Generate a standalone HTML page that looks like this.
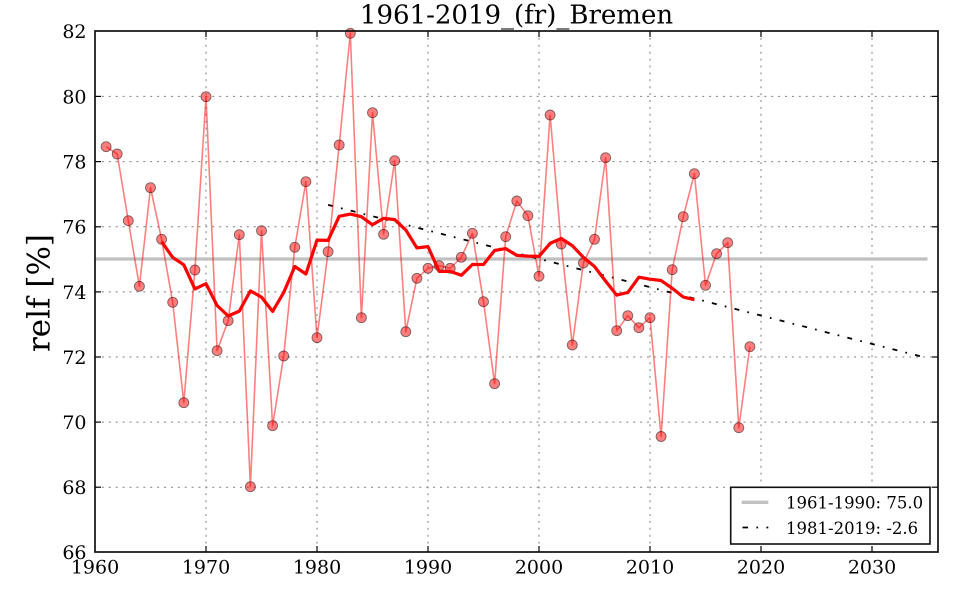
<!DOCTYPE html>
<html>
<head>
<meta charset="utf-8">
<style>
  html, body { margin: 0; padding: 0; background: #ffffff; }
  svg { display: block; }
  text { font-family: "DejaVu Serif", "Liberation Serif", serif; fill: #000; }
</style>
</head>
<body>
<svg width="960" height="600" viewBox="0 0 960 600" xmlns="http://www.w3.org/2000/svg">
  <rect x="0" y="0" width="960" height="600" fill="#ffffff"/>

  <!-- grid -->
  <g stroke="#808080" stroke-width="1" stroke-dasharray="2 4.9" fill="none">
    <line x1="206" y1="31" x2="206" y2="552"/>
    <line x1="317" y1="31" x2="317" y2="552"/>
    <line x1="428" y1="31" x2="428" y2="552"/>
    <line x1="539" y1="31" x2="539" y2="552"/>
    <line x1="650" y1="31" x2="650" y2="552"/>
    <line x1="761" y1="31" x2="761" y2="552"/>
    <line x1="872" y1="31" x2="872" y2="552"/>
    <line x1="95" y1="96.4" x2="938" y2="96.4"/>
    <line x1="95" y1="161.6" x2="938" y2="161.6"/>
    <line x1="95" y1="226.8" x2="938" y2="226.8"/>
    <line x1="95" y1="291.9" x2="938" y2="291.9"/>
    <line x1="95" y1="357.0" x2="938" y2="357.0"/>
    <line x1="95" y1="422.1" x2="938" y2="422.1"/>
    <line x1="95" y1="487.2" x2="938" y2="487.2"/>
  </g>

  <!-- mean 1961-1990 -->
  <line x1="95" y1="259" x2="927.5" y2="259" stroke="#c0c0c0" stroke-width="3.3"/>

  <!-- trend 1981-2019 -->
  <line x1="328.1" y1="204.9" x2="927.5" y2="358.1" stroke="#000" stroke-width="1.8" stroke-dasharray="5 8.3 1.7 8.3"/>

  <!-- data line -->
  <polyline fill="none" stroke="#ff0000" stroke-opacity="0.5" stroke-width="1.6" stroke-linejoin="round"
    points="106.1,146.7 117.2,154 128.3,220.7 139.4,286.3 150.5,187.7 161.6,239.3 172.7,302.3 183.8,402.7 194.9,270 206.0,96.7 217.1,350.7 228.2,320.7 239.3,234.7 250.4,486.7 261.5,230.7 272.6,425.7 283.7,356 294.8,247.3 305.9,181.7 317.0,337.7 328.1,251.7 339.2,145 350.3,33.3 361.4,317.7 372.5,112.7 383.6,234.3 394.7,160.7 405.8,331.7 416.9,278.3 428.0,268.3 439.1,265.7 450.2,268.3 461.3,257.3 472.4,233.3 483.5,301.7 494.6,383.7 505.7,236.7 516.8,201 527.9,215.7 539.0,276.3 550.1,115 561.2,244 572.3,345 583.4,263 594.5,239.3 605.6,157.7 616.7,330.7 627.8,315.7 638.9,327.7 650.0,317.7 661.1,436.5 672.2,269.7 683.3,216.7 694.4,173.7 705.5,285.3 716.6,253.7 727.7,242.7 738.8,427.7 749.9,346.7"/>

  <!-- markers -->
  <g fill="#ff0000" fill-opacity="0.5" stroke="#000" stroke-opacity="0.5" stroke-width="0.9">
    <circle cx="106.1" cy="146.7" r="5"/><circle cx="117.2" cy="154" r="5"/><circle cx="128.3" cy="220.7" r="5"/>
    <circle cx="139.4" cy="286.3" r="5"/><circle cx="150.5" cy="187.7" r="5"/><circle cx="161.6" cy="239.3" r="5"/>
    <circle cx="172.7" cy="302.3" r="5"/><circle cx="183.8" cy="402.7" r="5"/><circle cx="194.9" cy="270" r="5"/>
    <circle cx="206.0" cy="96.7" r="5"/><circle cx="217.1" cy="350.7" r="5"/><circle cx="228.2" cy="320.7" r="5"/>
    <circle cx="239.3" cy="234.7" r="5"/><circle cx="250.4" cy="486.7" r="5"/><circle cx="261.5" cy="230.7" r="5"/>
    <circle cx="272.6" cy="425.7" r="5"/><circle cx="283.7" cy="356" r="5"/><circle cx="294.8" cy="247.3" r="5"/>
    <circle cx="305.9" cy="181.7" r="5"/><circle cx="317.0" cy="337.7" r="5"/><circle cx="328.1" cy="251.7" r="5"/>
    <circle cx="339.2" cy="145" r="5"/><circle cx="350.3" cy="33.3" r="5"/><circle cx="361.4" cy="317.7" r="5"/>
    <circle cx="372.5" cy="112.7" r="5"/><circle cx="383.6" cy="234.3" r="5"/><circle cx="394.7" cy="160.7" r="5"/>
    <circle cx="405.8" cy="331.7" r="5"/><circle cx="416.9" cy="278.3" r="5"/><circle cx="428.0" cy="268.3" r="5"/>
    <circle cx="439.1" cy="265.7" r="5"/><circle cx="450.2" cy="268.3" r="5"/><circle cx="461.3" cy="257.3" r="5"/>
    <circle cx="472.4" cy="233.3" r="5"/><circle cx="483.5" cy="301.7" r="5"/><circle cx="494.6" cy="383.7" r="5"/>
    <circle cx="505.7" cy="236.7" r="5"/><circle cx="516.8" cy="201" r="5"/><circle cx="527.9" cy="215.7" r="5"/>
    <circle cx="539.0" cy="276.3" r="5"/><circle cx="550.1" cy="115" r="5"/><circle cx="561.2" cy="244" r="5"/>
    <circle cx="572.3" cy="345" r="5"/><circle cx="583.4" cy="263" r="5"/><circle cx="594.5" cy="239.3" r="5"/>
    <circle cx="605.6" cy="157.7" r="5"/><circle cx="616.7" cy="330.7" r="5"/><circle cx="627.8" cy="315.7" r="5"/>
    <circle cx="638.9" cy="327.7" r="5"/><circle cx="650.0" cy="317.7" r="5"/><circle cx="661.1" cy="436.5" r="5"/>
    <circle cx="672.2" cy="269.7" r="5"/><circle cx="683.3" cy="216.7" r="5"/><circle cx="694.4" cy="173.7" r="5"/>
    <circle cx="705.5" cy="285.3" r="5"/><circle cx="716.6" cy="253.7" r="5"/><circle cx="727.7" cy="242.7" r="5"/>
    <circle cx="738.8" cy="427.7" r="5"/><circle cx="749.9" cy="346.7" r="5"/>
  </g>

  <!-- 11-year moving average -->
  <polyline fill="none" stroke="#ff0000" stroke-width="3.2" stroke-linejoin="round"
    points="161.6,241.7 172.7,257.4 183.8,264.8 194.9,288.9 206.0,283.7 217.1,305.5 228.2,316.0 239.3,311.1 250.4,290.9 261.5,297.1 272.6,311.4 283.7,292.5 294.8,266.5 305.9,274.0 317.0,240.1 328.1,240.4 339.2,216.3 350.3,214.1 361.4,216.7 372.5,224.8 383.6,218.3 394.7,219.6 405.8,230.0 416.9,247.9 428.0,246.6 439.1,271.4 450.2,271.4 461.3,275.3 472.4,264.5 483.5,264.5 494.6,250.5 505.7,248.6 516.8,255.4 527.9,256.1 539.0,256.4 550.1,243.4 561.2,238.5 572.3,245.6 583.4,257.4 594.5,266.5 605.6,281.1 616.7,295.1 627.8,292.5 638.9,277.2 650.0,279.2 661.1,280.5 672.2,288.3 683.3,297.1 694.4,299.7"/>

  <!-- ticks -->
  <g stroke="#000" stroke-width="1.2">
    <line x1="206" y1="552" x2="206" y2="546"/><line x1="317" y1="552" x2="317" y2="546"/>
    <line x1="428" y1="552" x2="428" y2="546"/><line x1="539" y1="552" x2="539" y2="546"/>
    <line x1="650" y1="552" x2="650" y2="546"/><line x1="761" y1="552" x2="761" y2="546"/>
    <line x1="872" y1="552" x2="872" y2="546"/>
    <line x1="206" y1="31" x2="206" y2="37"/><line x1="317" y1="31" x2="317" y2="37"/>
    <line x1="428" y1="31" x2="428" y2="37"/><line x1="539" y1="31" x2="539" y2="37"/>
    <line x1="650" y1="31" x2="650" y2="37"/><line x1="761" y1="31" x2="761" y2="37"/>
    <line x1="872" y1="31" x2="872" y2="37"/>
    <line x1="95" y1="96.4" x2="101" y2="96.4"/><line x1="95" y1="161.6" x2="101" y2="161.6"/>
    <line x1="95" y1="226.8" x2="101" y2="226.8"/><line x1="95" y1="291.9" x2="101" y2="291.9"/>
    <line x1="95" y1="357.0" x2="101" y2="357.0"/><line x1="95" y1="422.1" x2="101" y2="422.1"/>
    <line x1="95" y1="487.2" x2="101" y2="487.2"/>
    <line x1="938" y1="96.4" x2="932" y2="96.4"/><line x1="938" y1="161.6" x2="932" y2="161.6"/>
    <line x1="938" y1="226.8" x2="932" y2="226.8"/><line x1="938" y1="291.9" x2="932" y2="291.9"/>
    <line x1="938" y1="357.0" x2="932" y2="357.0"/><line x1="938" y1="422.1" x2="932" y2="422.1"/>
    <line x1="938" y1="487.2" x2="932" y2="487.2"/>
  </g>

  <!-- frame -->
  <rect x="95" y="31" width="843" height="521" fill="none" stroke="#111" stroke-width="1.7"/>

  <!-- legend -->
  <rect x="730.7" y="487.3" width="199.3" height="56.7" fill="#ffffff" stroke="#111" stroke-width="1.6"/>
  <line x1="741.7" y1="502.3" x2="768.3" y2="502.3" stroke="#c0c0c0" stroke-width="3.3"/>
  <line x1="742.5" y1="527.5" x2="768.3" y2="527.5" stroke="#000" stroke-width="1.8" stroke-dasharray="5.6 8.3 1.7 8.3"/>
  <text x="786" y="508.3" font-size="16.5">1961-1990: 75.0</text>
  <text x="786" y="534" font-size="16.5">1981-2019: -2.6</text>

  <!-- x tick labels -->
  <g font-size="19" text-anchor="middle">
    <text x="95" y="573.5">1960</text>
    <text x="206" y="573.5">1970</text>
    <text x="317" y="573.5">1980</text>
    <text x="428" y="573.5">1990</text>
    <text x="539" y="573.5">2000</text>
    <text x="650" y="573.5">2010</text>
    <text x="761" y="573.5">2020</text>
    <text x="872" y="573.5">2030</text>
  </g>

  <!-- y tick labels -->
  <g font-size="19" text-anchor="end">
    <text x="86.5" y="38">82</text>
    <text x="86.5" y="103.3">80</text>
    <text x="86.5" y="168.5">78</text>
    <text x="86.5" y="233.7">76</text>
    <text x="86.5" y="298.8">74</text>
    <text x="86.5" y="363.9">72</text>
    <text x="86.5" y="429">70</text>
    <text x="86.5" y="494.1">68</text>
    <text x="86.5" y="559">66</text>
  </g>

  <!-- y axis label -->
  <text x="0" y="0" font-size="31" text-anchor="middle" transform="translate(49.5,293) rotate(-90)">relf [%]</text>

  <!-- title -->
  <text x="516.5" y="23.5" font-size="26" text-anchor="middle">1961-2019_(fr)_Bremen</text>
</svg>
</body>
</html>
